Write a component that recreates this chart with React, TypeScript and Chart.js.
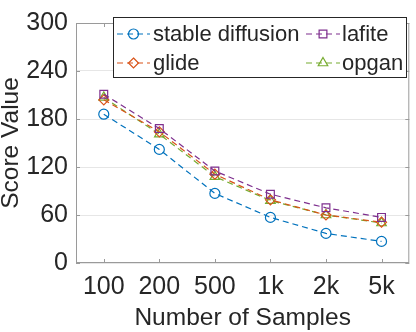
import React, { useEffect, useRef } from 'react';
import { Chart, registerables } from 'chart.js';

Chart.register(...registerables);

const categories = ['100', '200', '500', '1k', '2k', '5k'];
const stableDiffusion = [186, 142, 87, 57, 37, 27];
const lafite = [211, 168, 115, 86, 69, 57];
const glide = [204, 164, 111, 79, 60, 51];
const opgan = [207, 161, 108, 78, 60, 50];
const yTickValues = [0, 60, 120, 180, 240, 300];
const xTitle = 'Number of Samples';
const yTitle = 'Score Value';

const FONT = "'Liberation Sans', Arial, Helvetica, sans-serif";
const TEXT = '#262626';

function drawMarker(ctx: CanvasRenderingContext2D, style: string, x: number, y: number, r: number) {
  ctx.beginPath();
  if (style === 'circle') {
    ctx.arc(x, y, r, 0, Math.PI * 2);
  } else if (style === 'rect') {
    const s = r * Math.SQRT1_2;
    ctx.rect(x - s, y - s, 2 * s, 2 * s);
  } else if (style === 'rectRot') {
    ctx.moveTo(x, y - r);
    ctx.lineTo(x + r, y);
    ctx.lineTo(x, y + r);
    ctx.lineTo(x - r, y);
    ctx.closePath();
  } else if (style === 'triangle') {
    const a = (2 * Math.PI) / 3;
    ctx.moveTo(x, y - r);
    ctx.lineTo(x + Math.sin(a) * r, y - Math.cos(a) * r);
    ctx.lineTo(x - Math.sin(a) * r, y - Math.cos(a) * r);
    ctx.closePath();
  }
  ctx.stroke();
}

const frameAndLegend = {
  id: 'frameAndLegend',
  afterDatasetsDraw(chart: any) {
    const { ctx, chartArea } = chart;
    const { left, right, top, bottom } = chartArea;
    ctx.save();
    ctx.strokeStyle = '#9a9a9a';
    ctx.lineWidth = 1;
    ctx.setLineDash([]);
    ctx.strokeRect(left + 0.5, top + 0.5, right - left - 1, bottom - top - 1);
    const xs = chart.scales.x;
    const ys = chart.scales.y;
    const tl = 4;
    ctx.beginPath();
    xs.ticks.forEach((_: any, i: number) => {
      const px = Math.round(xs.getPixelForTick(i)) + 0.5;
      ctx.moveTo(px, bottom);
      ctx.lineTo(px, bottom - tl);
      ctx.moveTo(px, top);
      ctx.lineTo(px, top + tl);
    });
    ys.ticks.forEach((_: any, i: number) => {
      const py = Math.round(ys.getPixelForTick(i)) + 0.5;
      ctx.moveTo(left, py);
      ctx.lineTo(left + tl, py);
      ctx.moveTo(right, py);
      ctx.lineTo(right - tl, py);
    });
    ctx.stroke();
    ctx.restore();
  },
  afterDraw(chart: any) {
    const { ctx } = chart;
    ctx.save();
    const bx = 113, by = 17, bw = 293, bh = 60;
    ctx.fillStyle = '#ffffff';
    ctx.fillRect(bx, by, bw, bh);
    ctx.strokeStyle = '#262626';
    ctx.lineWidth = 1;
    ctx.strokeRect(bx + 0.5, by + 0.5, bw, bh);
    const slots = [
      { x0: 117, x1: 150, tx: 153, y: 34 },
      { x0: 306, x1: 340, tx: 342, y: 34 },
      { x0: 117, x1: 150, tx: 153, y: 63 },
      { x0: 306, x1: 340, tx: 342, y: 63 },
    ];
    chart.data.datasets.forEach((ds: any, i: number) => {
      const s = slots[i];
      ctx.strokeStyle = ds.borderColor;
      ctx.lineWidth = ds.borderWidth;
      ctx.setLineDash(ds.borderDash);
      ctx.beginPath();
      ctx.moveTo(s.x0, s.y);
      ctx.lineTo(s.x1, s.y);
      ctx.stroke();
      ctx.setLineDash([]);
      drawMarker(ctx, ds.pointStyle, (s.x0 + s.x1) / 2, s.y, ds.pointRadius);
      ctx.fillStyle = TEXT;
      ctx.font = `22px ${FONT}`;
      ctx.textBaseline = 'middle';
      ctx.textAlign = 'left';
      ctx.fillText(ds.label, s.tx, s.y + 1);
    });
    ctx.restore();
  },
};

export default function App() {
  const ref = useRef<HTMLCanvasElement | null>(null);
  useEffect(() => {
    document.body.style.margin = '0';
    const canvas = ref.current;
    if (!canvas) return;
    const mk = (label: string, data: number[], color: string, style: string, r: number) => ({
      label,
      data,
      borderColor: color,
      backgroundColor: 'rgba(0,0,0,0)',
      borderWidth: 1.2,
      borderDash: [6, 4],
      pointStyle: style,
      pointRadius: r,
      pointBorderWidth: 1.2,
      pointBorderColor: color,
      pointBackgroundColor: 'rgba(0,0,0,0)',
      tension: 0,
      fill: false,
    });
    const chart = new Chart(canvas, {
      type: 'line',
      data: {
        labels: categories,
        datasets: [
          mk('stable diffusion', stableDiffusion, '#0072BD', 'circle', 5),
          mk('lafite', lafite, '#7E2F8E', 'rect', 5.5),
          mk('glide', glide, '#D95319', 'rectRot', 5),
          mk('opgan', opgan, '#77AC30', 'triangle', 5.5),
        ] as any,
      },
      options: {
        responsive: false,
        animation: false,
        devicePixelRatio: 1,
        layout: { padding: { top: 10, right: 2, bottom: 0, left: 0 } },
        plugins: { legend: { display: false }, tooltip: { enabled: false } },
        scales: {
          x: {
            type: 'category',
            offset: true,
            grid: { display: false, drawTicks: false },
            border: { display: false },
            ticks: {
              color: TEXT,
              font: { family: FONT, size: 25 },
              padding: 9,
              maxRotation: 0,
            },
            title: {
              display: true,
              text: xTitle,
              color: TEXT,
              font: { family: FONT, size: 24.5, lineHeight: 1 },
              padding: { top: 0, bottom: 1.5 },
            },
            afterFit: (s: any) => {
              s.height = 69;
            },
          },
          y: {
            min: 0,
            max: 300,
            afterBuildTicks: (s: any) => {
              s.ticks = yTickValues.map((v) => ({ value: v }));
            },
            grid: { color: '#e6e6e6', drawTicks: false, lineWidth: 1 },
            border: { display: false },
            ticks: {
              color: TEXT,
              font: { family: FONT, size: 25 },
              padding: 8,
            },
            title: {
              display: true,
              text: yTitle,
              color: TEXT,
              font: { family: FONT, size: 24.5, lineHeight: 1 },
              padding: { top: -1, bottom: 0 },
            },
            afterFit: (s: any) => {
              s.width = 76;
            },
          },
        },
      },
      plugins: [frameAndLegend],
    });
    return () => chart.destroy();
  }, []);
  return <canvas ref={ref} width={416} height={332} style={{ display: 'block' }} />;
}
